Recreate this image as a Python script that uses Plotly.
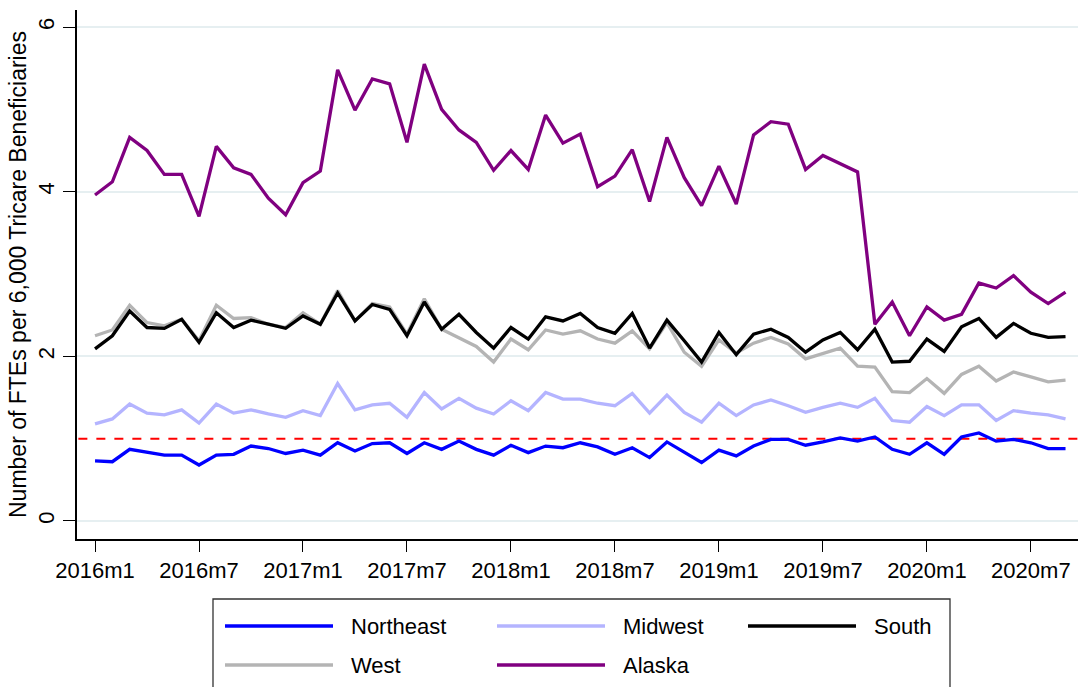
import plotly.graph_objects as go

# Month index 0 = 2016m1 ... 56 = 2020m9
months = [f"{2016 + i // 12}m{i % 12 + 1}" for i in range(57)]
month_idx = list(range(57))

tick_months = [0, 6, 12, 18, 24, 30, 36, 42, 48, 54]
tick_labels = ["2016m1", "2016m7", "2017m1", "2017m7", "2018m1",
               "2018m7", "2019m1", "2019m7", "2020m1", "2020m7"]

northeast = [0.73, 0.72, 0.87, 0.84, 0.80, 0.80, 0.68, 0.80, 0.81, 0.91,
             0.88, 0.82, 0.86, 0.80, 0.95, 0.85, 0.94, 0.95, 0.82, 0.95,
             0.87, 0.97, 0.87, 0.80, 0.92, 0.83, 0.91, 0.89, 0.95, 0.90,
             0.81, 0.89, 0.77, 0.96, 0.83, 0.71, 0.86, 0.79, 0.91, 0.99,
             0.99, 0.92, 0.96, 1.01, 0.97, 1.02, 0.87, 0.81, 0.95, 0.81,
             1.02, 1.07, 0.97, 0.99, 0.95, 0.88, 0.88]

midwest = [1.18, 1.24, 1.42, 1.31, 1.29, 1.35, 1.19, 1.42, 1.31, 1.35,
           1.30, 1.26, 1.34, 1.28, 1.67, 1.35, 1.41, 1.43, 1.26, 1.56,
           1.36, 1.49, 1.37, 1.30, 1.46, 1.34, 1.56, 1.48, 1.48, 1.43,
           1.40, 1.55, 1.31, 1.53, 1.32, 1.20, 1.43, 1.28, 1.41, 1.47,
           1.40, 1.32, 1.38, 1.43, 1.38, 1.49, 1.22, 1.20, 1.39, 1.28,
           1.41, 1.41, 1.22, 1.34, 1.31, 1.29, 1.24]

south = [2.09, 2.25, 2.55, 2.35, 2.34, 2.45, 2.17, 2.53, 2.35, 2.44,
         2.39, 2.34, 2.49, 2.39, 2.77, 2.43, 2.63, 2.57, 2.25, 2.66,
         2.33, 2.51, 2.29, 2.10, 2.35, 2.21, 2.48, 2.43, 2.52, 2.35,
         2.28, 2.52, 2.10, 2.44, 2.19, 1.93, 2.29, 2.02, 2.27, 2.33,
         2.23, 2.05, 2.20, 2.29, 2.08, 2.33, 1.93, 1.94, 2.21, 2.06,
         2.36, 2.46, 2.23, 2.40, 2.28, 2.23, 2.24]

west = [2.25, 2.32, 2.62, 2.41, 2.37, 2.45, 2.19, 2.62, 2.46, 2.47,
        2.39, 2.35, 2.53, 2.39, 2.80, 2.43, 2.64, 2.60, 2.27, 2.70,
        2.33, 2.23, 2.12, 1.93, 2.21, 2.08, 2.32, 2.27, 2.31, 2.21,
        2.16, 2.31, 2.09, 2.41, 2.05, 1.88, 2.20, 2.04, 2.16, 2.23,
        2.15, 1.97, 2.04, 2.10, 1.88, 1.87, 1.57, 1.56, 1.73, 1.55,
        1.78, 1.88, 1.70, 1.81, 1.75, 1.69, 1.71]

alaska = [3.96, 4.12, 4.66, 4.50, 4.21, 4.21, 3.70, 4.55, 4.29, 4.21,
          3.92, 3.72, 4.11, 4.25, 5.48, 4.99, 5.37, 5.31, 4.60, 5.55,
          5.00, 4.75, 4.60, 4.26, 4.50, 4.27, 4.93, 4.59, 4.70, 4.06,
          4.19, 4.51, 3.88, 4.66, 4.17, 3.83, 4.31, 3.85, 4.69, 4.85,
          4.82, 4.27, 4.44, 4.34, 4.24, 2.39, 2.66, 2.25, 2.60, 2.44,
          2.51, 2.89, 2.83, 2.98, 2.78, 2.64, 2.78]

threshold = 1.0

series = [
    ("Northeast", northeast, "#0000ff"),
    ("Midwest", midwest, "#b4b4ff"),
    ("South", south, "#000000"),
    ("West", west, "#b4b4b4"),
    ("Alaska", alaska, "#800080"),
]

FONT = "Liberation Sans, Arial, Helvetica, sans-serif"
W, H = 1078, 687
ML, MR, MT, MB = 77, 0, 10, 148
PW, PH = W - ML - MR, H - MT - MB


def px_x(px):
    return (px - ML) / PW


def px_y(py):
    return (H - MB - py) / PH


fig = go.Figure()

# reference line at 1 FTE per 6,000 beneficiaries
fig.add_trace(go.Scatter(
    x=[month_idx[0] - 2, month_idx[-1] + 2], y=[threshold, threshold],
    mode="lines", line=dict(color="#ff0000", width=2, dash="dash"),
    showlegend=False, hoverinfo="skip"))

draw_order = ["West", "Midwest", "Northeast", "South", "Alaska"]
lookup = {name: (vals, col) for name, vals, col in series}
for name in draw_order:
    vals, col = lookup[name]
    fig.add_trace(go.Scatter(
        x=month_idx, y=vals, mode="lines", name=name,
        line=dict(color=col, width=3.3),
        customdata=months,
        hovertemplate="%{customdata}: %{y:.2f}<extra>" + name + "</extra>",
        showlegend=False))

# legend drawn as a boxed 3-column key below the axis
shapes = [dict(type="rect", xref="paper", yref="paper",
               x0=px_x(213), x1=px_x(950), y0=px_y(700), y1=px_y(599),
               line=dict(color="#333333", width=1.3), fillcolor="white",
               layer="above")]
annotations = []
col_x = [225, 497, 748]
row_y = [626, 665]
for k, (name, vals, col) in enumerate(series):
    cx = col_x[k % 3]
    ry = row_y[k // 3]
    shapes.append(dict(type="line", xref="paper", yref="paper",
                       x0=px_x(cx), x1=px_x(cx + 108),
                       y0=px_y(ry), y1=px_y(ry),
                       line=dict(color=col, width=3.5), layer="above"))
    annotations.append(dict(xref="paper", yref="paper",
                            x=px_x(cx + 124), y=px_y(ry),
                            xanchor="left", yanchor="middle",
                            text=name, showarrow=False,
                            font=dict(family=FONT, size=22, color="black")))

fig.update_layout(
    width=W, height=H,
    margin=dict(l=ML, r=MR, t=MT, b=MB, pad=0),
    paper_bgcolor="white", plot_bgcolor="white",
    font=dict(family=FONT, size=22, color="black"),
    shapes=shapes, annotations=annotations,
    showlegend=False,
)

fig.update_xaxes(
    range=[-1.04, 56.72],
    tickmode="array", tickvals=tick_months, ticktext=tick_labels,
    ticks="outside", ticklen=11, tickwidth=1.3, tickcolor="black",
    showline=True, linecolor="black", linewidth=1.5,
    showgrid=False, zeroline=False,
    tickfont=dict(family=FONT, size=22, color="black"),
)

fig.update_yaxes(
    range=[-0.219, 6.207],
    tickmode="array", tickvals=[0, 2, 4, 6], ticktext=["0", "2", "4", "6"],
    tickangle=-90,
    ticks="outside", ticklen=12, tickwidth=1.3, tickcolor="black",
    showline=True, linecolor="black", linewidth=1.5,
    showgrid=True, gridcolor="#e6eff1", gridwidth=1.5,
    zeroline=False,
    tickfont=dict(family=FONT, size=22, color="black"),
    title=dict(text="Number of FTEs per 6,000 Tricare Beneficiaries",
               font=dict(family=FONT, size=23, color="black"), standoff=1),
)

fig.write_html("out.html")
